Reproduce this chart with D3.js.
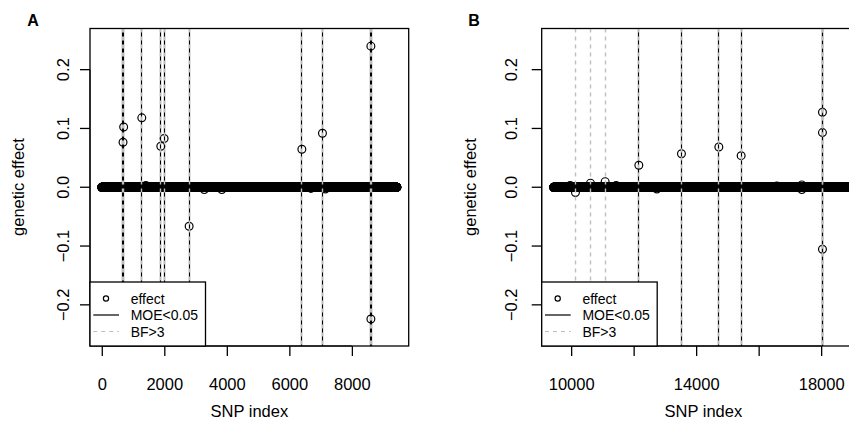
<!DOCTYPE html>
<html>
<head>
<meta charset="utf-8">
<script src="https://cdn.jsdelivr.net/npm/d3@7"></script>
<style>
  html, body { margin: 0; padding: 0; background: #fff; }
  text { font-family: "Liberation Sans", Arial, Helvetica, sans-serif; }
</style>
</head>
<body>
<div id="chart"></div>
<script>
'use strict';

// panel A: SNPs 1..9440, panel B: SNPs 9441..19020
// every SNP not listed below has an estimated effect of 0
const snpRangeA = [1, 9440];
const snpRangeB = [9441, 19020];

// non-zero effects, panel A
const effectIdxA = [680, 700, 1280, 1888, 1994, 2794, 6400, 7059, 8608, 8608, 1410, 3280, 3840, 6690, 7150];
const effectValA = [0.0765, 0.1025, 0.118, 0.0697, 0.083, -0.0663, 0.0646, 0.0918, 0.24, -0.224, 0.003, -0.004, -0.004, -0.002, -0.003];

// non-zero effects, panel B
const effectIdxB = [10138, 10618, 11088, 12166, 13530, 14726, 15440, 18042, 18042, 18042, 9968, 11440, 12742, 16582, 17382, 17382];
const effectValB = [-0.009, 0.007, 0.0095, 0.0374, 0.057, 0.0685, 0.0537, 0.1275, 0.093, -0.1054, 0.003, 0.003, -0.003, 0.002, 0.004, -0.004];

// SNPs passing MOE<0.05 and BF>3
const moeA = [672, 704, 1280, 1888, 1994, 2794, 6400, 7059, 8600, 8616];
const bfA  = [672, 704, 1280, 1888, 1994, 2794, 6400, 7059, 8600, 8616];
const moeB = [12166, 13530, 14726, 15440, 18030, 18050];
const bfB  = [10138, 10618, 11088, 12166, 13530, 14726, 15440, 18030, 18050];

const yTicks = [-0.2, -0.1, 0.0, 0.1, 0.2];
const xTicksA = [0, 2000, 4000, 6000, 8000];
const xTicksB = [10000, 12000, 14000, 16000, 18000];
const xLabelsB = [10000, 14000, 18000];
const legendLabels = ["effect", "MOE<0.05", "BF>3"];

(function() {

  const m = {
    width: 849,
    height: 432,
    top: 28.5,
    bottom: 346,
    fontSize: 16.5,
    legendSize: 14
  };

  window.onload = function() {
    let svg = d3.select('#chart')
      .append('svg')
      .attr('width', m.width)
      .attr('height', m.height);

    drawPanel(svg, {
      label: "A", labelX: 33,
      left: 90, right: 408.7,
      range: snpRangeA, idx: effectIdxA, val: effectValA,
      moe: moeA, bf: bfA,
      ticks: xTicksA, tickLabels: xTicksA,
      tickLabelX: 63, titleX: 18
    });
    drawPanel(svg, {
      label: "B", labelX: 474,
      left: 541.7, right: 865,
      range: snpRangeB, idx: effectIdxB, val: effectValB,
      moe: moeB, bf: bfB,
      ticks: xTicksB, tickLabels: xLabelsB,
      tickLabelX: 511, titleX: 470
    });
  }

  // snap vertical lines to pixel centres so they stay crisp
  function snap(v) { return Math.round(v - 0.5) + 0.5; }

  function drawPanel(svg, p) {
    let g = svg.append('g');

    // R style 4% expansion
    let pad = (p.range[1] - p.range[0]) * 0.04;
    let xScale = d3.scaleLinear()
      .domain([p.range[0] - pad, p.range[1] + pad])
      .range([p.left, p.right]);
    let yScale = d3.scaleLinear()
      .domain([-0.27, 0.27])
      .range([m.bottom, m.top]);

    let clipId = 'clip' + p.label;
    g.append('clipPath').attr('id', clipId)
      .append('rect')
      .attr('x', p.left).attr('y', m.top)
      .attr('width', p.right - p.left).attr('height', m.bottom - m.top);

    let plot = g.append('g').attr('clip-path', 'url(#' + clipId + ')');

    // all SNPs, zero effect unless listed
    let listed = new Set(p.idx);
    let points = d3.range(p.range[0], p.range[1] + 1)
      .filter(i => !listed.has(i))
      .map(i => ({i: i, v: 0}));
    p.idx.forEach((i, k) => points.push({i: i, v: p.val[k]}));

    plot.selectAll('.pt')
      .data(points)
      .enter()
      .append('circle')
      .attr('class', 'pt')
      .attr('cx', d => xScale(d.i))
      .attr('cy', d => yScale(d.v))
      .attr('r', 3.9)
      .attr('fill', 'none')
      .attr('stroke', '#000')
      .attr('stroke-width', 1.2);

    // MOE lines solid black, BF lines grey dashed on top
    plot.selectAll('.moe')
      .data(p.moe)
      .enter()
      .append('line')
      .attr('x1', d => snap(xScale(d))).attr('x2', d => snap(xScale(d)))
      .attr('y1', m.top).attr('y2', m.bottom)
      .attr('stroke', '#000')
      .attr('stroke-width', 1.2);

    plot.selectAll('.bf')
      .data(p.bf)
      .enter()
      .append('line')
      .attr('x1', d => snap(xScale(d))).attr('x2', d => snap(xScale(d)))
      .attr('y1', m.top).attr('y2', m.bottom)
      .attr('stroke', '#bebebe')
      .attr('stroke-width', 1.4)
      .attr('stroke-dasharray', '4,4');

    // box
    g.append('rect')
      .attr('x', p.left).attr('y', m.top)
      .attr('width', p.right - p.left).attr('height', m.bottom - m.top)
      .attr('fill', 'none')
      .attr('stroke', '#000')
      .attr('stroke-width', 1.3);

    // x axis
    let xAxis = d3.axisBottom(xScale)
      .tickValues(p.ticks)
      .tickSizeInner(10)
      .tickSizeOuter(0)
      .tickFormat(d => p.tickLabels.includes(d) ? d : "");
    let xg = g.append('g')
      .attr('transform', 'translate(0,' + m.bottom + ')')
      .call(xAxis);
    xg.select('.domain')
      .attr('d', 'M' + xScale(p.ticks[0]) + ',0H' + xScale(p.ticks[p.ticks.length - 1]));
    xg.selectAll('line').attr('stroke-width', 1.3);
    xg.selectAll('text')
      .attr('y', 0).attr('dy', null)
      .attr('dominant-baseline', 'central')
      .attr('transform', 'translate(0,' + 37.5 + ')')
      .style('font-size', m.fontSize + 'px')
      .style('font-family', '"Liberation Sans", Arial, sans-serif')
      .attr('fill', '#000');

    // y axis
    let yAxis = d3.axisLeft(yScale)
      .tickValues(yTicks)
      .tickSizeInner(10)
      .tickSizeOuter(0)
      .tickFormat(d3.format('.1f'));
    let yg = g.append('g')
      .attr('transform', 'translate(' + p.left + ',0)')
      .call(yAxis);
    yg.selectAll('line').attr('stroke-width', 1.3);
    yg.select('.domain')
      .attr('d', 'M0,' + yScale(yTicks[0]) + 'V' + yScale(yTicks[yTicks.length - 1]));
    yg.selectAll('text')
      .attr('x', 0).attr('dy', null)
      .attr('text-anchor', 'middle')
      .attr('dominant-baseline', 'central')
      .attr('transform', d => 'translate(' + (p.tickLabelX - p.left) + ',0) rotate(-90,0,' + yScale(d) + ')')
      .attr('y', d => yScale(d))
      .style('font-size', m.fontSize + 'px')
      .style('font-family', '"Liberation Sans", Arial, sans-serif')
      .text(d => d3.format('.1f')(d).replace('-', '\u2212'));
    yg.selectAll('.tick').attr('transform', null);
    yg.selectAll('.tick line')
      .attr('y1', d => yScale(d)).attr('y2', d => yScale(d));

    // axis titles
    g.append('text')
      .attr('x', (p.left + p.right) / 2)
      .attr('y', 411)
      .attr('text-anchor', 'middle')
      .attr('dominant-baseline', 'central')
      .style('font-size', m.fontSize + 'px')
      .text('SNP index');

    g.append('text')
      .attr('transform', 'translate(' + p.titleX + ',187) rotate(-90)')
      .attr('text-anchor', 'middle')
      .attr('dominant-baseline', 'central')
      .style('font-size', m.fontSize + 'px')
      .text('genetic effect');

    g.append('text')
      .attr('x', p.labelX)
      .attr('y', 26)
      .attr('text-anchor', 'middle')
      .style('font-size', '16px')
      .style('font-weight', 'bold')
      .text(p.label);

    drawLegend(g, p.left);
  }

  function drawLegend(g, left) {
    let lg = g.append('g');
    lg.append('rect')
      .attr('x', left).attr('y', 282)
      .attr('width', 115.5).attr('height', m.bottom - 282)
      .attr('fill', '#fff')
      .attr('stroke', '#000')
      .attr('stroke-width', 1.3);

    let rows = [298.5, 315, 331.5];

    lg.append('circle')
      .attr('cx', left + 16).attr('cy', rows[0])
      .attr('r', 2.6)
      .attr('fill', 'none')
      .attr('stroke', '#000')
      .attr('stroke-width', 1.2);
    lg.append('line')
      .attr('x1', left + 3.3).attr('x2', left + 29)
      .attr('y1', rows[1]).attr('y2', rows[1])
      .attr('stroke', '#000')
      .attr('stroke-width', 1.2);
    lg.append('line')
      .attr('x1', left + 3.3).attr('x2', left + 29)
      .attr('y1', rows[2]).attr('y2', rows[2])
      .attr('stroke', '#bebebe')
      .attr('stroke-width', 1.2)
      .attr('stroke-dasharray', '4,4');

    lg.selectAll('.lt')
      .data(legendLabels)
      .enter()
      .append('text')
      .attr('x', left + 40.7)
      .attr('y', (d, i) => rows[i])
      .attr('dominant-baseline', 'central')
      .style('font-size', m.legendSize + 'px')
      .text(d => d);
  }

})();
</script>
</body>
</html>
